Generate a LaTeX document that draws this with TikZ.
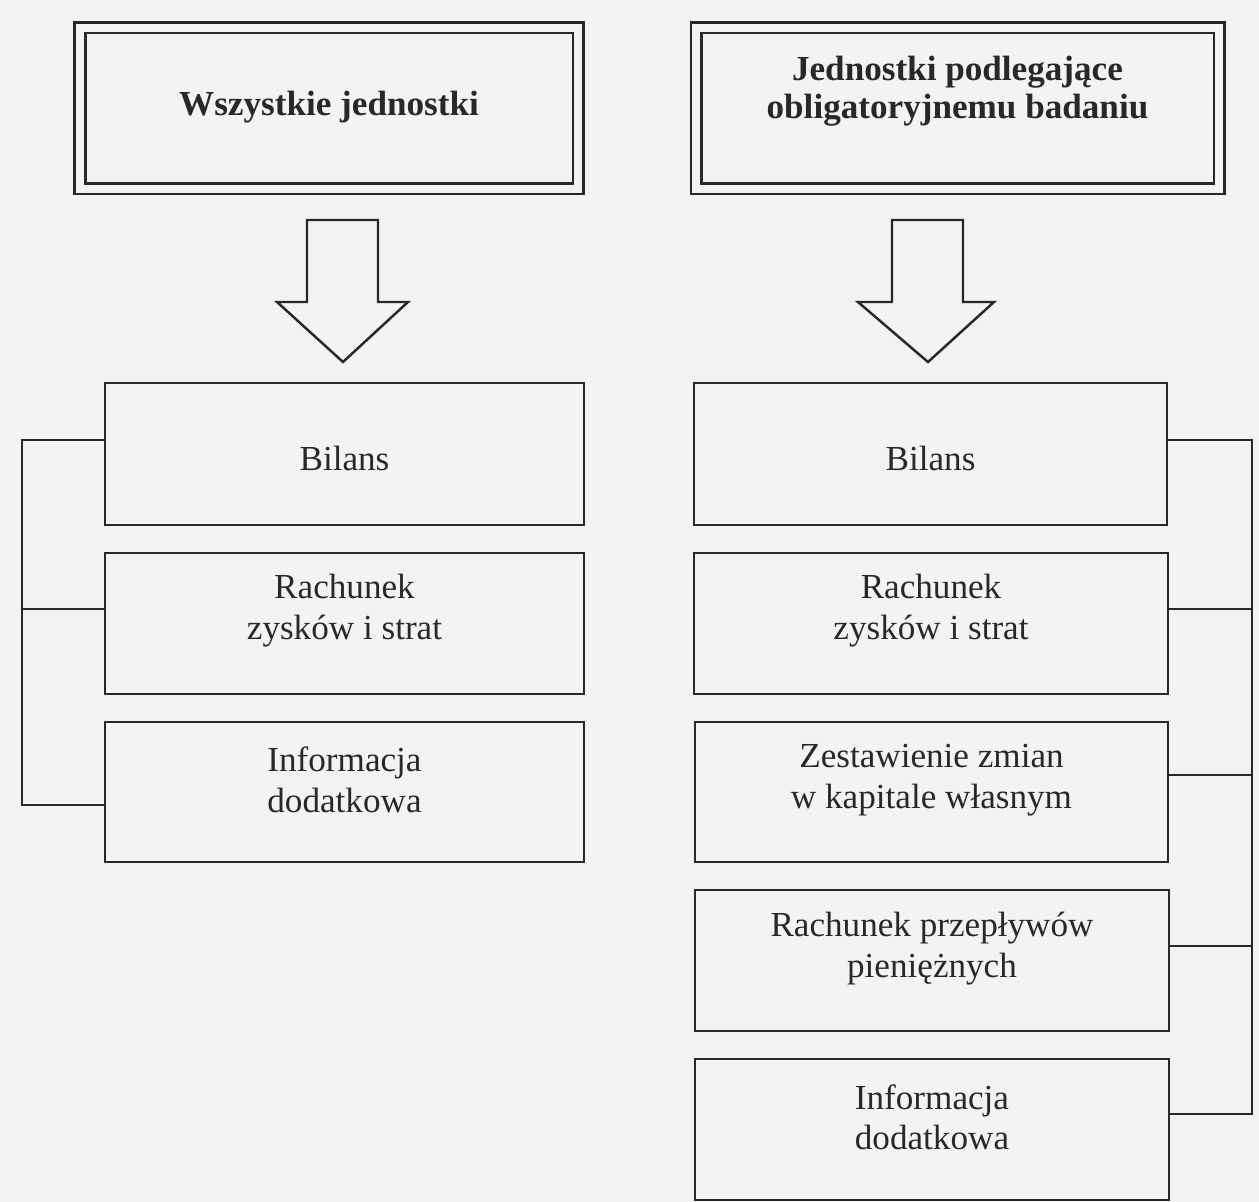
\documentclass[tikz,border=0pt]{standalone}
\usepackage{fontspec}
\setmainfont{Liberation Serif}
\usetikzlibrary{fit,calc}
\definecolor{ink}{RGB}{40,40,40}
\definecolor{paper}{RGB}{243,243,241}
\tikzset{
  box/.style={draw=ink, line width=1.5pt, rectangle, inner sep=0pt},
  lbl/.style={align=center, inner sep=0pt, font=\fontsize{20}{23}\selectfont, text=ink},
  tlbl/.style={align=center, inner sep=0pt, font=\fontsize{20}{21.5}\selectfont\bfseries, text=ink},
  titlebox/.style={draw=ink, line width=1.7pt, double=paper, double distance=4pt,
              rectangle, inner sep=0pt},
  conn/.style={draw=ink, line width=1.5pt},
  bigarrow/.style={draw=ink, line width=1.4pt, line join=miter, fill=paper}
}
\begin{document}
\begin{tikzpicture}[x=0.02cm, y=-0.02cm]
\fill[paper] (0,0) rectangle (1259,1202);
\useasboundingbox (0,0) rectangle (1259,1202);

% title boxes
\node[titlebox, fit={(80,28) (578,189)},
  label={[tlbl, yshift=0.03cm]center:Wszystkie jednostki}] (t1) {};
\node[titlebox, fit={(696,28) (1219,189)},
  label={[tlbl, yshift=0.34cm]center:{Jednostki podlegające\\obligatoryjnemu badaniu}}] (t2) {};

% left column boxes
\node[box, fit={(105,383) (584,525)},
  label={[lbl, yshift=-0.08cm]center:Bilans}] (lb1) {};
\node[box, fit={(105,553) (584,694)},
  label={[lbl, yshift=0.26cm]center:{Rachunek\\zysków i strat}}] (lb2) {};
\node[box, fit={(105,722) (584,862)},
  label={[lbl, yshift=0.24cm]center:{Informacja\\dodatkowa}}] (lb3) {};

% right column boxes
\node[box, fit={(694,383) (1167,525)},
  label={[lbl, yshift=-0.08cm]center:Bilans}] (rb1) {};
\node[box, fit={(694,553) (1168,694)},
  label={[lbl, yshift=0.26cm]center:{Rachunek\\zysków i strat}}] (rb2) {};
\node[box, fit={(695,722) (1168,862)},
  label={[lbl, yshift=0.24cm]center:{Zestawienie zmian\\w kapitale własnym}}] (rb3) {};
\node[box, fit={(695,890) (1169,1031)},
  label={[lbl, yshift=0.24cm]center:{Rachunek przepływów\\pieniężnych}}] (rb4) {};
\node[box, fit={(695,1059) (1169,1200)},
  label={[lbl, yshift=0.24cm]center:{Informacja\\dodatkowa}}] (rb5) {};

% block arrows
\draw[bigarrow] (307,220) -- (378,220) -- (378,302) -- (408,302) -- (343,362)
  -- (277,302) -- (307,302) -- cycle;
\draw[bigarrow] (892,220) -- (963,220) -- (963,302) -- (994,302) -- (928,362)
  -- (858,302) -- (892,302) -- cycle;

% left bracket
\draw[conn] (lb1.west |- 0,440) -- (22,440) -- (22,805) -- (lb3.west |- 0,805);
\draw[conn] (22,609) -- (lb2.west |- 0,609);

% right bracket
\draw[conn] (rb1.east |- 0,440) -- (1252,440) -- (1252,1114) -- (rb5.east |- 0,1114);
\draw[conn] (1252,609) -- (rb2.east |- 0,609);
\draw[conn] (1252,775) -- (rb3.east |- 0,775);
\draw[conn] (1252,946) -- (rb4.east |- 0,946);
\end{tikzpicture}
\end{document}
